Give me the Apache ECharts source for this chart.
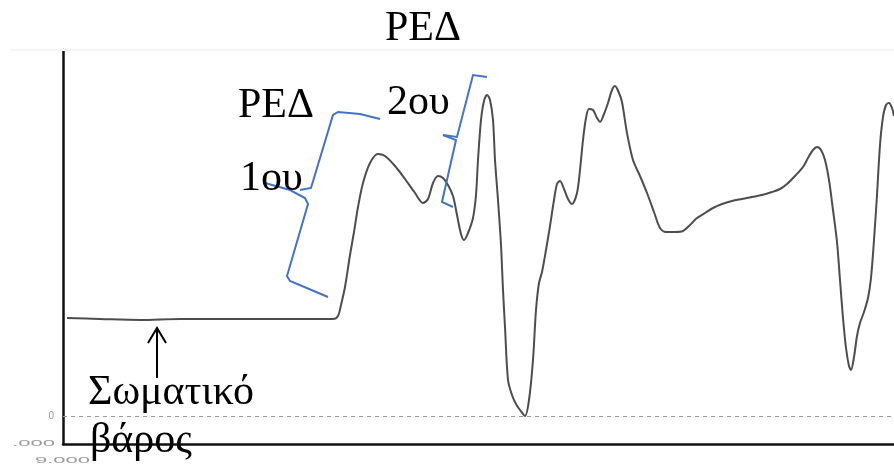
<!DOCTYPE html>
<html>
<head>
<meta charset="utf-8">
<script src="https://cdn.jsdelivr.net/npm/echarts@6.0.0/dist/echarts.min.js"></script>
<style>
  html, body { margin: 0; padding: 0; background: #fff; }
  #chart { width: 894px; height: 465px; }
</style>
</head>
<body>
<div id="chart"></div>
<script>
// Vertical ground reaction force during a countermovement jump trial
// time in milliseconds
const timeMs = [
  20, 185, 385, 585, 785, 985, 1185, 1350, 1375, 1390,
  1410, 1435, 1455, 1475, 1500, 1535, 1575, 1610, 1660, 1710,
  1760, 1800, 1825, 1850, 1875, 1900, 1925, 1950, 1970, 1990,
  2005, 2025, 2050, 2065, 2075, 2090, 2105, 2120, 2135, 2150,
  2160, 2175, 2190, 2200, 2210, 2225, 2245, 2265, 2285, 2310,
  2330, 2350, 2365, 2380, 2395, 2415, 2435, 2455, 2470, 2485,
  2505, 2525, 2545, 2570, 2585, 2600, 2615, 2630, 2650, 2670,
  2685, 2705, 2725, 2745, 2760, 2780, 2795, 2820, 2850, 2885,
  2920, 2955, 2985, 3015, 3060, 3100, 3135, 3170, 3210, 3250,
  3295, 3345, 3395, 3445, 3495, 3545, 3585, 3620, 3660, 3700,
  3725, 3750, 3770, 3790, 3810, 3830, 3850, 3870, 3885, 3900,
  3915, 3930, 3940, 3955, 3970, 3985, 4005, 4025, 4040, 4055,
  4070, 4085, 4100, 4115, 4130, 4145, 4155
];
// force in newtons
const forceN = [
  980, 970, 960, 970, 970, 970, 970, 970, 1000, 1110,
  1290, 1610, 1840, 2090, 2330, 2530, 2620, 2600, 2500, 2370,
  2230, 2130, 2170, 2330, 2400, 2380, 2310, 2200, 2010, 1820,
  1760, 1830, 1980, 2210, 2560, 2960, 3150, 3210, 3160, 2960,
  2560, 2160, 1710, 1260, 890, 360, 210, 120, 60, 0,
  160, 560, 1060, 1330, 1440, 1660, 1900, 2160, 2320, 2350,
  2270, 2170, 2120, 2230, 2460, 2760, 2980, 3070, 3060, 2980,
  2940, 3020, 3130, 3260, 3300, 3230, 3140, 2830, 2560, 2400,
  2230, 2040, 1880, 1840, 1840, 1850, 1910, 1980, 2030, 2080,
  2120, 2150, 2170, 2190, 2210, 2240, 2270, 2320, 2400, 2490,
  2580, 2660, 2690, 2660, 2560, 2360, 2060, 1740, 1360, 980,
  680, 500, 460, 590, 800, 930, 1040, 1180, 1380, 1760,
  2210, 2710, 2990, 3110, 3130, 3080, 3000
];

// axis range and the surviving tick labels of the force axis
const forceMin = -280;
const forceMax = 3660;
const timeMax = 4155;
const tickValues = [0, -280, -450];
const tickLabels = ['0', '.000', '9.000'];

// annotation texts
const phaseTitle = 'ΡΕΔ';
const phase1 = '1ου';
const phase2 = '2ου';
const weightLine1 = 'Σωματικό';
const weightLine2 = 'βάρος';

const seriesData = timeMs.map((t, i) => [t, forceN[i]]);

const chart = echarts.init(document.getElementById('chart'), null, { renderer: 'canvas' });

const serif = '42px "Liberation Serif", "Times New Roman", serif';
const blue = '#4472C4';
const labelGrey = '#9a9a9a';

function txt(text, x, y) {
  return {
    type: 'text', x: x, y: y, z: 100,
    style: {
      text: text, font: serif, fill: '#000',
      align: 'left', verticalAlign: 'middle',
      textAlign: 'left', textVerticalAlign: 'middle'
    }
  };
}
function brace(points) {
  return {
    type: 'polyline', z: 90,
    shape: { points: points, smooth: 0 },
    style: { stroke: blue, lineWidth: 2, fill: null }
  };
}

chart.setOption({
  animation: false,
  backgroundColor: '#fff',
  grid: { left: 63, right: 0, top: 50, bottom: 21, containLabel: false },
  xAxis: {
    type: 'value', min: 0, max: timeMax,
    axisLine: { show: true, onZero: false, lineStyle: { color: '#111', width: 2.5 } },
    axisTick: { show: false },
    axisLabel: { show: false },
    splitLine: { show: false }
  },
  yAxis: {
    type: 'value', min: forceMin, max: forceMax,
    axisLine: { show: true, lineStyle: { color: '#111', width: 2.5 } },
    axisTick: { show: false },
    axisLabel: {
      show: true,
      customValues: [tickValues[0]],
      color: labelGrey,
      fontSize: 10,
      margin: 9,
      formatter: function (v) {
        const i = tickValues.indexOf(v);
        return i >= 0 ? tickLabels[i] : '';
      }
    },
    splitLine: { show: false }
  },
  series: [{
    type: 'line',
    data: seriesData,
    showSymbol: false,
    smooth: 0.3,
    lineStyle: { color: '#4d4d4d', width: 2 },
    silent: true,
    markLine: {
      silent: true,
      symbol: 'none',
      label: { show: false },
      lineStyle: { color: labelGrey, width: 1, type: [4, 4] },
      data: [{ yAxis: 0 }]
    }
  }]
});

// the lower tick labels are stretched wide and run off the bottom edge
const axisX = chart.convertToPixel({ xAxisIndex: 0 }, 0);
const squeezed = tickValues.slice(1).map((v, k) => ({
  type: 'text',
  x: axisX - 8 + k * 35,
  y: chart.convertToPixel({ yAxisIndex: 0 }, v),
  scaleX: 2.0,
  scaleY: 0.75,
  z: 5,
  style: {
    text: tickLabels[k + 1], font: '11px sans-serif', fill: labelGrey,
    align: 'right', verticalAlign: 'middle',
    textAlign: 'right', textVerticalAlign: 'middle'
  }
}));

chart.setOption({
  graphic: [
    // faint frame edge along the top of the plot
    { type: 'line', z: 1, shape: { x1: 10, y1: 50, x2: 894, y2: 50 }, style: { stroke: '#f6f6f6', lineWidth: 2 } },
    ...squeezed,
    txt(phaseTitle, 385, 29),
    txt(phaseTitle, 238, 106),
    txt(phase1, 240, 179),
    txt(phase2, 387, 103),
    txt(weightLine1, 88, 393),
    txt(weightLine2, 90, 441),
    // brace around the first phase
    brace([[380, 119], [360, 114], [338, 112], [333, 115], [311, 188], [300, 190]]),
    brace([[265, 183], [290, 190], [305, 198], [308, 204], [287, 276], [290, 281], [328, 297]]),
    // brace around the second phase
    brace([[487, 77], [473, 75], [457, 137], [443, 135]]),
    brace([[443, 135], [456, 140], [442, 202], [453, 207]]),
    // arrow pointing at the body-weight plateau
    { type: 'line', z: 95, shape: { x1: 157, y1: 328, x2: 157, y2: 378 }, style: { stroke: '#000', lineWidth: 2 } },
    { type: 'polyline', z: 95, shape: { points: [[148, 343], [157, 328], [166, 343]] }, style: { stroke: '#000', lineWidth: 2, fill: null } }
  ]
});
</script>
</body>
</html>
